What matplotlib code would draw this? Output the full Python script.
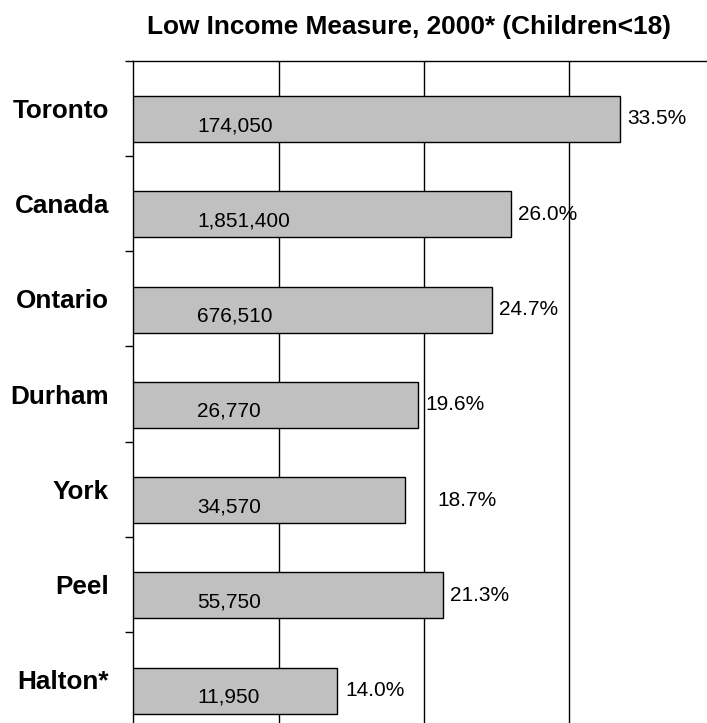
import matplotlib
matplotlib.use("Agg")
import matplotlib.pyplot as plt
import numpy as np

# Data
regions = ["Toronto", "Canada", "Ontario", "Durham", "York", "Peel", "Halton*"]
pct = [33.5, 26.0, 24.7, 19.6, 18.7, 21.3, 14.0]
counts = ["174,050", "1,851,400", "676,510", "26,770", "34,570", "55,750", "11,950"]

# gap (points) between bar end and its percentage label
label_gap = [5, 5, 5, 5, 23, 5, 6]

plt.rcParams["font.family"] = ["Liberation Sans", "DejaVu Sans"]

fig = plt.figure(figsize=(7.07, 7.23), dpi=100)
# plot area runs a little past the right and bottom edges of the picture
ax = fig.add_axes([133.4 / 707, -4.6 / 723, 581.2 / 707, 667.1 / 723])

y = np.arange(len(regions))
bar_y = y + 0.113
ax.barh(bar_y, pct, height=0.483, color="#C0C0C0", edgecolor="black",
        linewidth=1.0, zorder=3)

ax.set_xlim(0, 40)
ax.set_ylim(6.5, -0.5)

# vertical gridlines, no x labels
ax.set_xticks([10, 20, 30])
ax.xaxis.grid(True, color="black", linewidth=1.0)
ax.set_axisbelow(True)
ax.tick_params(axis="x", length=0, labelbottom=False)

# category names at band centres, tick marks at band edges
ax.set_yticks(y)
ax.set_yticklabels(regions, fontsize=18.8, fontweight="bold")
ax.set_yticks(np.arange(-0.5, 7, 1), minor=True)
ax.tick_params(axis="y", which="major", length=0, pad=17.5)
ax.tick_params(axis="y", which="minor", length=5.8, width=1.0)

for s in ["right", "bottom"]:
    ax.spines[s].set_visible(False)
for s in ["top", "left"]:
    ax.spines[s].set_linewidth(1.0)

for i in range(len(regions)):
    ax.annotate(f"{pct[i]:.1f}%", xy=(pct[i], bar_y[i]), xytext=(label_gap[i], 0),
                textcoords="offset points", ha="left", va="center", fontsize=15)
    ax.text(4.4, bar_y[i] + 0.07, counts[i], ha="left", va="center", fontsize=15, zorder=4)

fig.text(408.5 / 707, 1 - 27 / 723, "Low Income Measure, 2000* (Children<18)",
         ha="center", va="center", fontsize=18.9, fontweight="bold")

fig.savefig("out.png", dpi=100)
